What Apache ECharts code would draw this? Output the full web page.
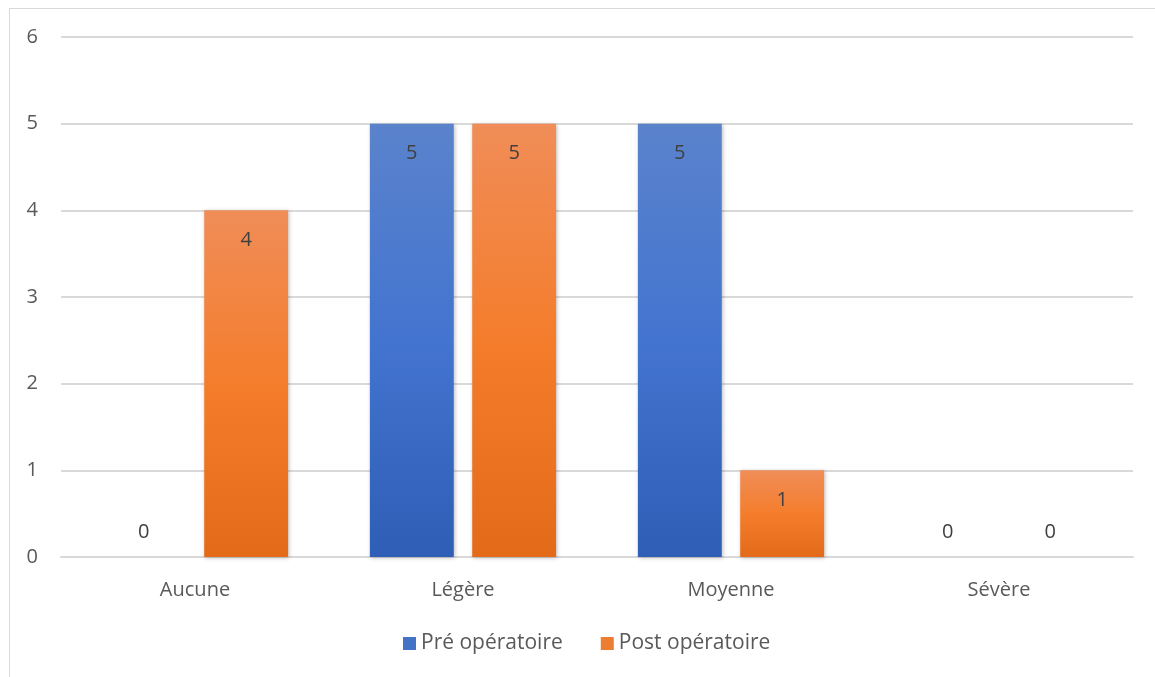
<!DOCTYPE html>
<html>
<head>
<meta charset="utf-8">
<script src="https://cdn.jsdelivr.net/npm/echarts@6/dist/echarts.min.js"></script>
<style>
  html, body { margin: 0; padding: 0; background: #ffffff; }
  #frame { position: absolute; left: 9px; top: 8px; width: 1160px; height: 680px;
           border: 1px solid #d9d9d9; box-sizing: border-box; }
  #chart { position: absolute; left: 0; top: 0; width: 1155px; height: 677px; }
</style>
</head>
<body>
<div id="frame"></div>
<div id="chart"></div>
<script>
// Severity categories and counts before / after surgery
const categories = ['Aucune', 'Légère', 'Moyenne', 'Sévère'];
const preOp = [0, 5, 5, 0];
const postOp = [4, 5, 1, 0];
const seriesNames = ['Pré opératoire', 'Post opératoire'];

const FONT = '"Open Sans", "Noto Sans", sans-serif';

function grad(top, mid, bottom) {
  return new echarts.graphic.LinearGradient(0, 0, 0, 1, [
    { offset: 0, color: top },
    { offset: 0.5, color: mid },
    { offset: 1, color: bottom }
  ]);
}

const blueFill = grad('#5b83cc', '#4374d0', '#2e5eb5');
const orangeFill = grad('#f08d58', '#f47d2c', '#e36a19');

function makeData(values) {
  return values.map(v => ({
    value: v,
    label: v === 0
      ? { position: 'top', distance: 15 }
      : { position: 'insideTop', distance: 20 }
  }));
}

function barSeries(name, values, fill) {
  return {
    name: name,
    type: 'bar',
    barWidth: '31.3%',
    barGap: '22%',
    data: makeData(values),
    itemStyle: {
      color: fill,
      shadowColor: 'rgba(0,0,0,0.25)',
      shadowBlur: 4,
      shadowOffsetX: 1,
      shadowOffsetY: 1
    },
    label: {
      show: true,
      color: '#404040',
      fontFamily: FONT,
      fontSize: 20
    }
  };
}

const chart = echarts.init(document.getElementById('chart'), null, { renderer: 'canvas' });
chart.setOption({
  animation: false,
  backgroundColor: 'transparent',
  grid: { left: 61, right: 22, top: 37, bottom: 120, containLabel: false },
  legend: {
    bottom: 18,
    left: 398,
    itemWidth: 13,
    itemHeight: 13,
    itemGap: 38,
    icon: 'rect',
    textStyle: { color: '#595959', fontFamily: FONT, fontSize: 21 },
    data: [
      { name: seriesNames[0], itemStyle: { color: '#4472c4', shadowBlur: 0 } },
      { name: seriesNames[1], itemStyle: { color: '#ed7d31', shadowBlur: 0 } }
    ]
  },
  xAxis: {
    type: 'category',
    data: categories,
    axisLine: { show: true, lineStyle: { color: '#d9d9d9', width: 2 } },
    axisTick: { show: false },
    axisLabel: { color: '#595959', fontFamily: FONT, fontSize: 20, margin: 23 }
  },
  yAxis: {
    type: 'value',
    min: 0,
    max: 6,
    interval: 1,
    axisLine: { show: false },
    axisTick: { show: false },
    axisLabel: { color: '#595959', fontFamily: FONT, fontSize: 20, margin: 23 },
    splitLine: { lineStyle: { color: '#d9d9d9', width: 2 } }
  },
  series: [
    barSeries(seriesNames[0], preOp, blueFill),
    barSeries(seriesNames[1], postOp, orangeFill)
  ]
});
</script>
</body>
</html>
